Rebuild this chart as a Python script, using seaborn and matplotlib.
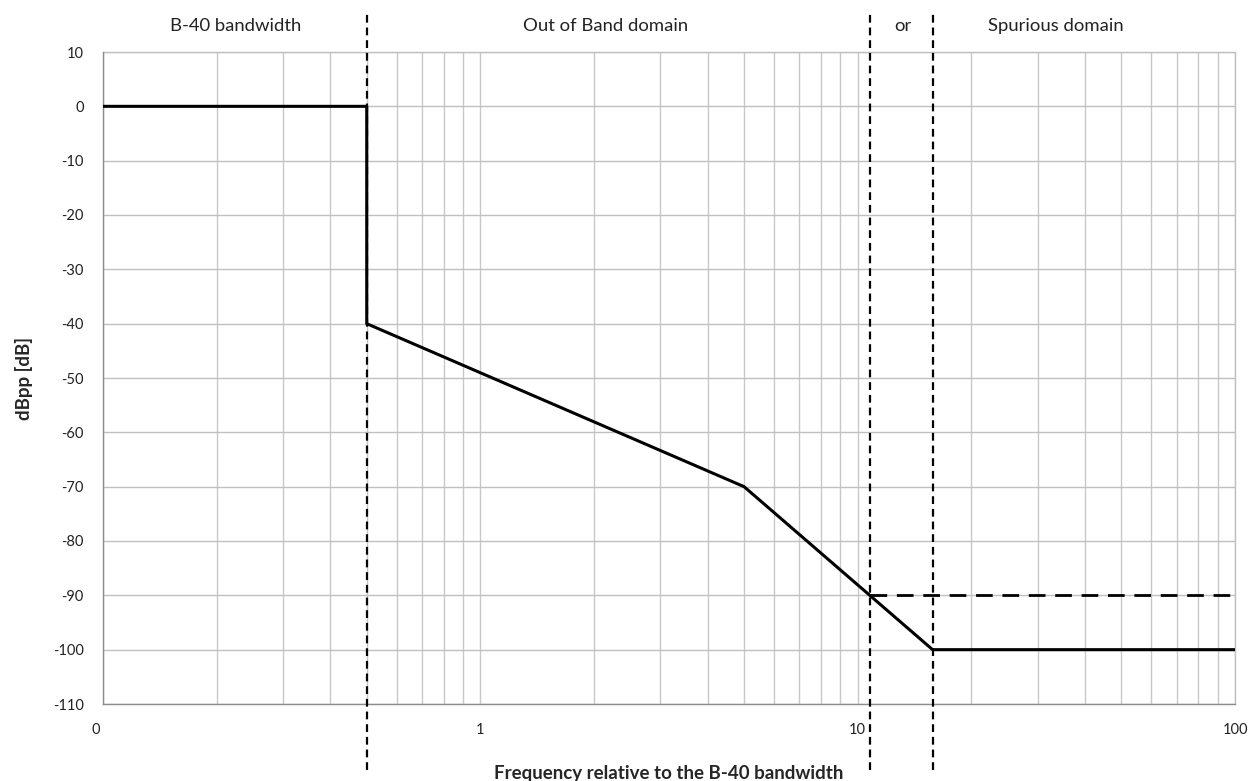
import matplotlib
matplotlib.use("Agg")
import matplotlib.pyplot as plt
import matplotlib.ticker as mticker
import matplotlib.transforms as mtransforms
import numpy as np
import pandas as pd
import seaborn as sns

# mask corner points (frequency relative to B-40, level in dBpp)
freq = [0.1, 0.5, 0.5, 5, 15.8, 100]
level = [0, 0, -40, -70, -100, -100]

# alternative spurious limit (dashed)
alt_freq = [10.8, 100]
alt_level = [-90, -90]

# domain boundaries (vertical dashed lines)
boundaries = [0.5, 10.8, 15.8]

region_names = ["B-40 bandwidth", "Out of Band domain", "or", "Spurious domain"]
region_centers = [0.224, 2.15, 13.2, 33.6]

x_ticks = [0.1, 1, 10, 100]
x_ticklabels = ["0", "1", "10", "100"]
y_ticks = list(range(-110, 11, 10))

sns.set_style("white")
plt.rcParams["font.family"] = ["Lato", "DejaVu Sans"]
plt.rcParams["axes.unicode_minus"] = False

fig = plt.figure(figsize=(12.54, 7.81), dpi=100)
ax = fig.add_axes([103 / 1254, 77 / 781, 1132 / 1254, 652 / 781])

df = pd.DataFrame({"freq": freq, "level": level})
sns.lineplot(data=df, x="freq", y="level", sort=False, estimator=None,
             color="black", lw=2.2, ax=ax, zorder=5)
df_alt = pd.DataFrame({"freq": alt_freq, "level": alt_level})
sns.lineplot(data=df_alt, x="freq", y="level", sort=False, estimator=None,
             color="black", lw=2.0, ax=ax, zorder=5)
ax.lines[-1].set_dashes([6, 3.5])

ax.set_xscale("log")
ax.set_xlim(0.1, 100)
ax.set_ylim(-110, 10)
ax.set_xticks(x_ticks)
ax.set_xticklabels(x_ticklabels)
ax.xaxis.set_minor_locator(mticker.LogLocator(base=10, subs=np.arange(2, 10)))
ax.xaxis.set_minor_formatter(mticker.NullFormatter())
ax.set_yticks(y_ticks)

ax.grid(True, which="both", axis="x", color="#c8c8c8", lw=1.0)
ax.grid(True, which="major", axis="y", color="#c0c0c0", lw=1.0)
ax.set_axisbelow(True)

for side in ["top", "right"]:
    ax.spines[side].set_visible(False)
for side in ["left", "bottom"]:
    ax.spines[side].set_color("#8c8c8c")
    ax.spines[side].set_linewidth(1.0)
ax.axhline(10, color="#c0c0c0", lw=1.0, clip_on=False, zorder=1)
ax.axvline(100, color="#c0c0c0", lw=1.0, clip_on=False, zorder=1)

ax.tick_params(axis="y", which="major", direction="out", length=6, width=1,
               color="#8c8c8c", labelsize=10.5, pad=8, labelcolor="#222222")
ax.tick_params(axis="x", which="both", length=0, labelsize=10.5, pad=14,
               labelcolor="#222222")

# Excel puts the "0" label a little left of the axis corner
first = ax.get_xticklabels()[0]
first.set_transform(first.get_transform() +
                    mtransforms.ScaledTranslation(-7 / 100, 0, fig.dpi_scale_trans))

for b in boundaries:
    ax.axvline(b, ymin=-0.101, ymax=1.061, color="black", lw=1.6,
               ls=(0, (3.5, 2.2)), clip_on=False, zorder=6)

for name, cx in zip(region_names, region_centers):
    ax.text(cx, 1.04, name, transform=ax.get_xaxis_transform(),
            ha="center", va="center", fontsize=13.3, color="#222222")

ax.set_xlabel("Frequency relative to the B-40 bandwidth", fontsize=13.5,
              fontweight="bold", labelpad=20)
ax.set_ylabel("dBpp [dB]", fontsize=13.5, fontweight="bold", labelpad=14)

fig.savefig("out.png", dpi=100)
